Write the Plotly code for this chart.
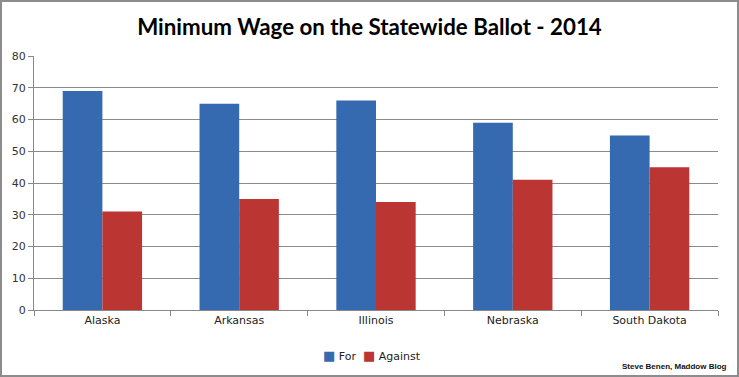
import plotly.graph_objects as go

states = ["Alaska", "Arkansas", "Illinois", "Nebraska", "South Dakota"]
for_vals = [69, 65, 66, 59, 55]
against_vals = [31, 35, 34, 41, 45]
y_ticks = [0, 10, 20, 30, 40, 50, 60, 70, 80]
series_names = ["For", "Against"]
series_colors = ["#3569b0", "#bb3533"]

W, H = 739, 377
ml, mr, mt, mb = 34, 21, 56, 67
pw, ph = W - ml - mr, H - mt - mb

fig = go.Figure()
fig.add_trace(go.Bar(name=series_names[0], x=states, y=for_vals,
                     marker=dict(color=series_colors[0], line=dict(width=0))))
fig.add_trace(go.Bar(name=series_names[1], x=states, y=against_vals,
                     marker=dict(color=series_colors[1], line=dict(width=0))))

fig.update_layout(
    width=W, height=H,
    margin=dict(l=ml, r=mr, t=mt, b=mb),
    paper_bgcolor="white", plot_bgcolor="white",
    barmode="group", bargap=0.42, bargroupgap=0,
    title=dict(text="<b>Minimum Wage on the Statewide Ballot - 2014</b>",
               x=0.5, xanchor="center", y=1 - 27 / H, yanchor="middle",
               font=dict(family="Lato", size=22.3, color="black")),
    font=dict(family="DejaVu Sans", size=11, color="#333"),
    showlegend=False,
)
fig.update_xaxes(showline=True, linecolor="#888", linewidth=1, ticks="outside", tickson="boundaries",
                 ticklen=5, tickcolor="#888", showgrid=False, tickfont=dict(size=11, color="#222"))
fig.update_yaxes(range=[0, 80], tickvals=y_ticks, showline=True, linecolor="#888", linewidth=1,
                 ticks="outside", ticklen=5, tickcolor="#888", showgrid=True, gridcolor="#8a8a8a",
                 gridwidth=1, zeroline=False, tickfont=dict(size=11, color="#333"))

# frame
fig.add_shape(type="rect", xref="paper", yref="paper",
              x0=-(ml - 1) / pw, x1=1 + (mr - 1) / pw, y0=-(mb - 1) / ph, y1=1 + (mt - 1) / ph,
              line=dict(color="#8c8c8c", width=2), fillcolor="rgba(0,0,0,0)", layer="above")

# legend (drawn as text with coloured squares)
legend_text = "&nbsp;&nbsp;".join(
    f"<span style='color:{c};font-size:13px'>■</span> {n}" for n, c in zip(series_names, series_colors))
fig.add_annotation(text=legend_text, xref="paper", yref="paper",
                   x=(372 - ml) / pw, xanchor="center", y=-(355 - (H - mb)) / ph, yanchor="middle",
                   showarrow=False, font=dict(family="DejaVu Sans", size=11, color="#222"))

fig.add_annotation(text="<b>Steve Benen, Maddow Blog</b>", xref="paper", yref="paper",
                   x=1 + (mr - 10) / pw, xanchor="right", y=-(366 - (H - mb)) / ph, yanchor="middle",
                   showarrow=False, font=dict(family="Liberation Sans", size=8, color="#111"))

fig.write_html("out.html", config={"displayModeBar": False},
               post_script="document.body.style.margin='0';")
